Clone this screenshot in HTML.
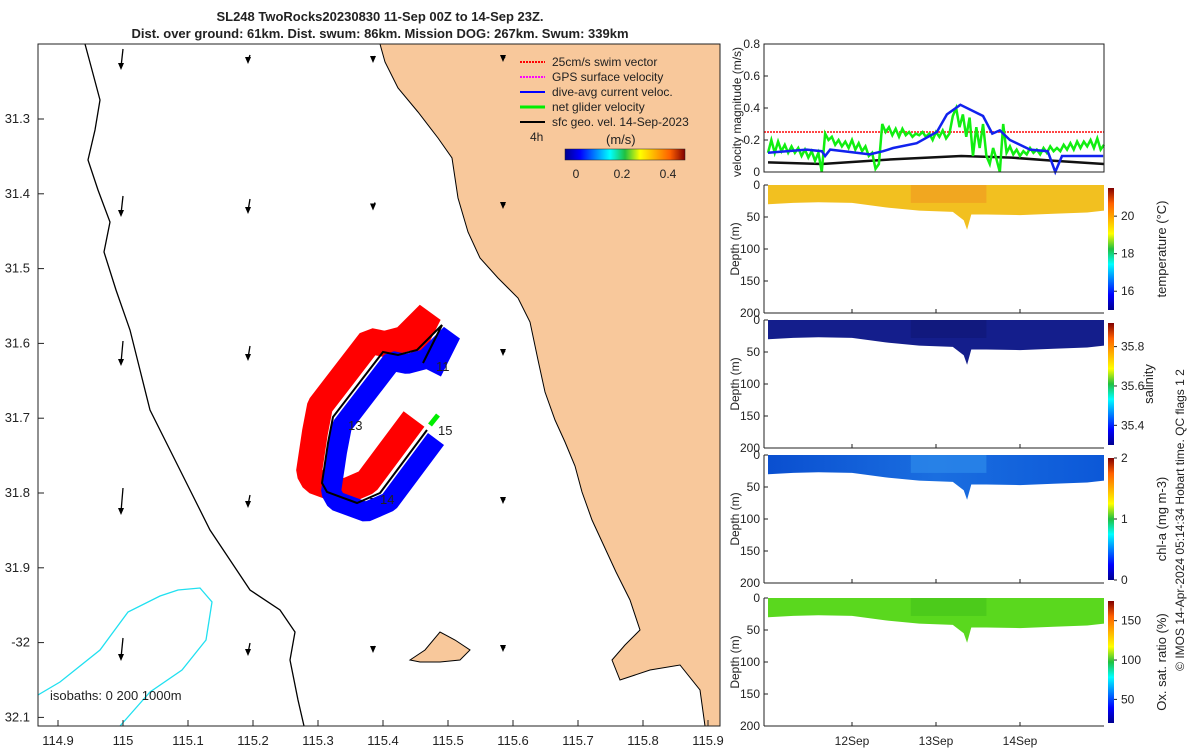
<!DOCTYPE html>
<html><head><meta charset="utf-8"><style>
body{margin:0;background:#fff;}
svg{display:block;font-family:"Liberation Sans",sans-serif;}
text{fill:#222;}
</style></head><body>
<svg id="s" width="1200" height="750" viewBox="0 0 1200 750">
<defs>
<linearGradient id="jetv" x1="0" y1="1" x2="0" y2="0">
<stop offset="0" stop-color="#00008f"/><stop offset="0.125" stop-color="#0000ff"/><stop offset="0.375" stop-color="#00ffff"/><stop offset="0.5" stop-color="#20c040"/><stop offset="0.625" stop-color="#ffff00"/><stop offset="0.875" stop-color="#ff6000"/><stop offset="1" stop-color="#800000"/></linearGradient>
<linearGradient id="jeth" x1="0" y1="0" x2="1" y2="0">
<stop offset="0" stop-color="#00008f"/><stop offset="0.125" stop-color="#0000ff"/><stop offset="0.375" stop-color="#00ffff"/><stop offset="0.5" stop-color="#20c040"/><stop offset="0.625" stop-color="#ffff00"/><stop offset="0.875" stop-color="#ff6000"/><stop offset="1" stop-color="#800000"/></linearGradient>
<linearGradient id="chlg" x1="0" y1="0" x2="1" y2="0"><stop offset="0" stop-color="#0a4fd0"/><stop offset="0.5" stop-color="#1a6ee0"/><stop offset="1" stop-color="#0c58d8"/></linearGradient>
</defs>
<text x="380" y="21" font-size="13" font-weight="bold" text-anchor="middle">SL248 TwoRocks20230830 11-Sep 00Z to 14-Sep 23Z.</text>
<text x="380" y="38" font-size="13" font-weight="bold" text-anchor="middle">Dist. over ground: 61km. Dist. swum: 86km. Mission DOG: 267km. Swum: 339km</text>
<g id="map">
<clipPath id="mc"><rect x="38" y="44" width="682" height="682"/></clipPath>
<g clip-path="url(#mc)">
<path fill="#f8c89b" stroke="#000" stroke-width="1" d="M380,44 L385,62 L398,88 L418,112 L438,138 L452,158 L458,198 L468,232 L480,258 L498,278 L518,298 L530,322 L538,360 L545,392 L555,420 L565,442 L575,466 L582,492 L592,520 L604,546 L616,572 L630,600 L640,630 L625,645 L612,660 L620,680 L650,670 L680,665 L700,690 L705,726 L720,726 L720,44 Z"/>
<path fill="#f8c89b" stroke="#000" d="M410,660 L425,650 L440,632 L455,640 L470,650 L460,660 L440,662 L420,662 Z"/>
<path fill="none" stroke="#000" stroke-width="1.3" d="M85,44 L92,70 L100,100 L95,130 L88,160 L98,190 L110,222 L104,252 L116,290 L130,330 L140,370 L150,410 L170,450 L190,490 L210,530 L230,560 L250,590 L280,610 L295,632 L290,660 L298,700 L304,726"/>
<path fill="none" stroke="#20e0f0" stroke-width="1.3" d="M38,695 L60,682 L100,650 L128,612 L160,596 L178,590 L200,588 L212,602 L206,640 L182,670 L150,692 L120,726"/>
</g>
<g id="arrows"></g>
<g id="track"></g>
<rect x="38" y="44" width="682" height="682" fill="none" stroke="#222"/>
<text x="50" y="700" font-size="13">isobaths: 0   200  1000m</text>
<g id="mapticks" font-size="13"></g>
<g font-size="12">
<line x1="520" y1="62" x2="545" y2="62" stroke="#f00" stroke-dasharray="2,1" stroke-width="2"/><text x="552" y="66">25cm/s swim vector</text>
<line x1="520" y1="77" x2="545" y2="77" stroke="#f0f" stroke-dasharray="2,1" stroke-width="2"/><text x="552" y="81">GPS surface velocity</text>
<line x1="520" y1="92" x2="545" y2="92" stroke="#00f" stroke-width="2"/><text x="552" y="96">dive-avg current veloc.</text>
<line x1="520" y1="107" x2="545" y2="107" stroke="#0e0" stroke-width="3"/><text x="552" y="111">net glider velocity</text>
<line x1="520" y1="122" x2="545" y2="122" stroke="#000" stroke-width="2"/><text x="552" y="126">sfc geo. vel. 14-Sep-2023</text>
<text x="530" y="141">4h</text><text x="606" y="144" font-size="13">(m/s)</text>
<rect x="565" y="149" width="120" height="11" fill="url(#jeth)" stroke="#222" stroke-width="0.5"/>
<text x="576" y="178" text-anchor="middle">0</text><text x="622" y="178" text-anchor="middle">0.2</text><text x="668" y="178" text-anchor="middle">0.4</text>
</g>
</g>
<g id="right"></g>
<text transform="translate(1184,520) rotate(-90)" font-size="12" text-anchor="middle">© IMOS 14-Apr-2024 05:14:34 Hobart time. QC flags 1  2</text>
</svg>
<script>
const NS="http://www.w3.org/2000/svg";
// ---- velocity data (days since 11-Sep 00Z) ----
const blueDays=[0,0.46,0.64,0.68,0.74,1.21,1.37,1.49,1.77,2.01,2.13,2.29,2.56,2.67,2.76,2.88,3.12,3.33,3.42,3.5,3.71,3.99];
const blueVals=[0.12,0.14,0.13,0.10,0.14,0.11,0.13,0.15,0.18,0.25,0.36,0.42,0.35,0.24,0.26,0.20,0.14,0.13,0.0,0.10,0.10,0.10];
const blackDays=[0,0.64,1.5,2.3,2.9,3.4,4.0];
const blackVals=[0.06,0.05,0.08,0.10,0.09,0.07,0.05];
const greenDays=[0,0.04,0.08,0.12,0.16,0.2,0.24,0.28,0.32,0.36,0.4,0.44,0.48,0.52,0.56,0.6,0.64,0.68,0.72,0.76,0.8,0.84,0.88,0.92,0.96,1.0,1.04,1.08,1.12,1.16,1.2,1.24,1.28,1.32,1.36,1.4,1.44,1.48,1.52,1.56,1.6,1.64,1.68,1.72,1.76,1.8,1.84,1.88,1.92,1.96,2.0,2.04,2.08,2.12,2.16,2.2,2.24,2.28,2.32,2.36,2.4,2.44,2.48,2.52,2.56,2.6,2.64,2.68,2.72,2.76,2.8,2.84,2.88,2.92,2.96,3.0,3.04,3.08,3.12,3.16,3.2,3.24,3.28,3.32,3.36,3.4,3.44,3.48,3.52,3.56,3.6,3.64,3.68,3.72,3.76,3.8,3.84,3.88,3.92,3.96,4.0];
const greenVals=[0.12,0.2,0.12,0.19,0.13,0.17,0.12,0.16,0.12,0.15,0.1,0.14,0.09,0.13,0.07,0.12,0.0,0.24,0.2,0.22,0.17,0.2,0.16,0.19,0.15,0.2,0.14,0.18,0.13,0.16,0.1,0.12,0.02,0.05,0.3,0.25,0.28,0.23,0.27,0.22,0.27,0.23,0.25,0.22,0.24,0.23,0.25,0.22,0.24,0.2,0.25,0.22,0.26,0.21,0.24,0.35,0.4,0.28,0.36,0.22,0.34,0.1,0.28,0.15,0.3,0.1,0.05,0.15,0.08,0.0,0.3,0.12,0.16,0.11,0.14,0.1,0.13,0.11,0.15,0.12,0.14,0.11,0.15,0.12,0.16,0.13,0.15,0.13,0.17,0.14,0.18,0.14,0.19,0.15,0.19,0.16,0.2,0.15,0.21,0.14,0.17];
const swimSpeed=0.25;
const velTicks=[0,0.2,0.4,0.6,0.8];
// ---- section data: layer bottom depth (m) vs day ----
const secDays=[0,0.3,0.6,1.0,1.4,1.8,2.2,2.33,2.37,2.42,2.6,3.0,3.4,3.8,4.0];
const secDepth=[30,28,27,28,35,40,42,55,70,46,46,47,45,43,40];
const depthTicks=[0,50,100,150,200];
const dateLabels=["12Sep","13Sep","14Sep"];
const dateDays=[1,2,3];
const tempTicks=[16,18,20], salTicks=[35.4,35.6,35.8], chlTicks=[0,1,2], oxTicks=[50,100,150];
const lonTicks=[114.9,115,115.1,115.2,115.3,115.4,115.5,115.6,115.7,115.8,115.9];
const latTicks=[31.3,31.4,31.5,31.6,31.7,31.8,31.9,32,32.1];

function mk(tag,attrs,parent,name,inter){const e=document.createElementNS(NS,tag);for(const k in attrs)e.setAttribute(k,attrs[k]);


parent.appendChild(e);return e;}
const X=d=>768+d*84;
// map ticks
const mt=document.getElementById('mapticks');
const lonX=v=>58+(v-114.9)*650, latY=v=>119+(v-31.3)*748;
lonTicks.forEach(v=>{mk('line',{x1:lonX(v),y1:726,x2:lonX(v),y2:720,stroke:'#222'},mt,'lon-tick');const t=mk('text',{x:lonX(v),y:745,'text-anchor':'middle'},mt,'lon-tick-label');t.textContent=String(v);});
latTicks.forEach(v=>{mk('line',{x1:38,y1:latY(v),x2:44,y2:latY(v),stroke:'#222'},mt,'lat-tick');const t=mk('text',{x:30,y:latY(v)+4,'text-anchor':'end'},mt,'lat-tick-label');t.textContent=v==32?'-32':String(v);});
// arrows
const ar=document.getElementById('arrows');
const acols=[123,250,375,505,635], arows=[58,205,352,500,648];
const alen=[[18,6,4,2,0],[18,12,5,2,0],[22,12,5,2,0],[24,10,4,2,0],[20,10,4,2,0]];
arows.forEach((y,i)=>acols.forEach((x,j)=>{const L=alen[i][j];if(!L)return;
mk('line',{x1:x,y1:y-L/2,x2:x-2,y2:y+L/2,stroke:'#000','stroke-width':1.3},ar,'current-arrow');
mk('path',{d:`M${x-2},${y+L/2+3} l-3,-7 l6,0 z`,fill:'#000'},ar,'arrow-head');}));
// track
const tr=document.getElementById('track');
const trk="M423,363 L442,325 L417,350 L398,355 L383,352 L333,417 L328,443 L322,483 L327,492 L357,503 L380,493 L427,430";
mk('path',{d:trk,fill:'none',stroke:'#f00','stroke-width':26,'stroke-linejoin':'bevel',transform:'translate(-13,-11)'},tr,'swim-vectors');
mk('path',{d:trk,fill:'none',stroke:'#00f','stroke-width':20,'stroke-linejoin':'bevel',transform:'translate(9,9)'},tr,'current-vectors');
mk('path',{d:'M430,425 L438,415',stroke:'#0e0','stroke-width':5},tr,'net-velocity-vector');
mk('path',{d:trk,fill:'none',stroke:'#000','stroke-width':2},tr,'glider-track');
[['11',436,371],['13',348,430],['15',438,435],['14',380,504]].forEach(a=>{const t=mk('text',{x:a[1],y:a[2],'font-size':13},tr,'day-label');t.textContent=a[0];});
// right panels
const R=document.getElementById('right');
const vT=44,vB=172,VY=v=>vB-(vB-vT)/0.8*v;
const vg=mk('g',{},R,'velocity-panel');
mk('line',{x1:764,y1:VY(swimSpeed),x2:1104,y2:VY(swimSpeed),stroke:'#f44','stroke-width':2,'stroke-dasharray':'2,1'},vg,'swim-speed-line');
function poly(ds,vs,col,w,name){mk('polyline',{points:ds.map((d,i)=>X(d)+','+VY(vs[i])).join(' '),fill:'none',stroke:col,'stroke-width':w},vg,name);}
poly(blackDays,blackVals,'#111',2.5,'geo-velocity-line');
poly(greenDays,greenVals,'#1e1',2.5,'net-velocity-line');
poly(blueDays,blueVals,'#12e',2.5,'current-velocity-line');
mk('rect',{x:764,y:44,width:340,height:128,fill:'none',stroke:'#222'},vg,'velocity-frame');
velTicks.forEach(v=>{mk('line',{x1:764,y1:VY(v),x2:768,y2:VY(v),stroke:'#222'},vg,'vel-tick');const t=mk('text',{x:760,y:VY(v)+4,'text-anchor':'end','font-size':12},vg,'vel-tick-label');t.textContent=String(v);});
const vl=mk('text',{transform:'translate(741,112) rotate(-90)','text-anchor':'middle','font-size':12},vg,'velocity-y-title');vl.textContent='velocity magnitude (m/s)';
const panels=[
 {top:185,fill:'#f2c020',patch:'#f0a020',cb:[15,21.5],ticks:tempTicks,title:'temperature (°C)',name:'temperature',tx:1166},
 {top:320,fill:'#141e8c',patch:'#10187a',cb:[35.3,35.92],ticks:salTicks,title:'salinity',name:'salinity',tx:1153},
 {top:455,fill:'url(#chlg)',patch:'#2a86e8',cb:[0,2],ticks:chlTicks,title:'chl-a (mg m-3)',name:'chl-a',tx:1166},
 {top:598,fill:'#5ad81e',patch:'#48c81a',cb:[20,175],ticks:oxTicks,title:'Ox. sat. ratio (%)',name:'oxygen',tx:1166}];
panels.forEach(p=>{const g=mk('g',{},R,p.name+'-panel');const H=128,DY=d=>p.top+d*H/200;
 mk('polygon',{points:`${X(0)},${DY(0)} ${X(4)},${DY(0)} `+secDays.slice().reverse().map((d,i)=>X(d)+','+DY(secDepth[secDepth.length-1-i])).join(' '),fill:p.fill},g,p.name+'-field');
 mk('rect',{x:X(1.7),y:DY(0),width:X(2.6)-X(1.7),height:DY(28)-DY(0),fill:p.patch,opacity:0.8},g,p.name+'-patch');
 mk('line',{x1:764,y1:p.top+H,x2:1104,y2:p.top+H,stroke:'#222'},g,'x-axis');
 mk('line',{x1:764,y1:p.top,x2:764,y2:p.top+H,stroke:'#222'},g,'y-axis');
 depthTicks.forEach(v=>{mk('line',{x1:764,y1:DY(v),x2:768,y2:DY(v),stroke:'#222'},g,'depth-tick');const t=mk('text',{x:760,y:DY(v)+4,'text-anchor':'end','font-size':12},g,'depth-tick-label');t.textContent=String(v);});
 const yl=mk('text',{transform:`translate(739,${p.top+64}) rotate(-90)`,'text-anchor':'middle','font-size':12},g,'depth-y-title');yl.textContent='Depth (m)';
 dateDays.forEach(d=>mk('line',{x1:X(d),y1:p.top+H,x2:X(d),y2:p.top+H-4,stroke:'#222'},g,'date-tick'));
 const cbT=p.top+3,cbH=H-6,CY=v=>cbT+cbH-(v-p.cb[0])/(p.cb[1]-p.cb[0])*cbH;
 mk('rect',{x:1108,y:cbT,width:6,height:cbH,fill:'url(#jetv)'},g,p.name+'-colorbar');
 p.ticks.forEach(v=>{mk('line',{x1:1114,y1:CY(v),x2:1117,y2:CY(v),stroke:'#222'},g,'cb-tick');const t=mk('text',{x:1121,y:CY(v)+4,'font-size':12},g,'cb-tick-label');t.textContent=String(v);});
 const ct=mk('text',{transform:`translate(${p.tx},${p.top+64}) rotate(-90)`,'text-anchor':'middle','font-size':13},g,p.name+'-colorbar-title');ct.textContent=p.title;
});
dateDays.forEach((d,i)=>{const t=mk('text',{x:X(d),y:745,'text-anchor':'middle','font-size':12},R,'date-label');t.textContent=dateLabels[i];});
</script>
</body></html>
